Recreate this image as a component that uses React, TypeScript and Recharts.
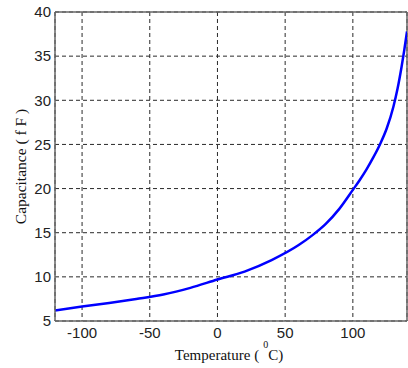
import React from 'react';
import { LineChart, Line, XAxis, YAxis, CartesianGrid, ReferenceLine } from 'recharts';

// temperature (°C) vs capacitance (fF)
const temperature = [-120, -100, -80, -60, -40, -20, 0, 20, 40, 60, 70, 80, 90, 100, 105, 110, 115, 120, 125, 130, 133, 136, 138, 140];
const capacitance = [6.2, 6.65, 7.05, 7.5, 8.0, 8.75, 9.7, 10.6, 11.9, 13.6, 14.7, 16.0, 17.7, 19.85, 20.95, 22.15, 23.5, 25.0, 26.8, 29.3, 31.3, 33.8, 35.7, 37.8];

const xTicks = [-100, -50, 0, 50, 100];
const yTicks = [5, 10, 15, 20, 25, 30, 35, 40];

const data = temperature.map((t, i) => ({ t, c: capacitance[i] }));

const axisColor = '#666';
const tickFont = { fontFamily: 'Liberation Sans, Arial, sans-serif', fontSize: 15, fill: '#222' };

const XLabel = ({ viewBox }: any) => {
  const cx = viewBox.x + viewBox.width / 2 - 2;
  const y = viewBox.y + 39;
  return (
    <text x={cx} y={y} textAnchor="middle" fontFamily="Liberation Serif, Times New Roman, serif" fontSize={15} fill="#111">
      Temperature (
      <tspan dx={4} dy={-12} fontSize={10}>0</tspan>
      <tspan dy={12} fontSize={15}>C)</tspan>
    </text>
  );
};

const YLabel = ({ viewBox }: any) => {
  const x = 26;
  const cy = viewBox.y + viewBox.height / 2;
  return (
    <text
      x={x}
      y={cy}
      transform={`rotate(-90 ${x} ${cy})`}
      textAnchor="middle"
      fontFamily="Liberation Serif, Times New Roman, serif"
      fontSize={15.5}
      fill="#111"
    >
      Capacitance ( f F )
    </text>
  );
};

const App: React.FC = () => {
  return (
    <div style={{ position: 'absolute', left: 0, top: 0, width: 408, height: 368, background: '#fff' }}>
      <LineChart width={408} height={368} data={data} margin={{ top: 12, right: 1, left: 0, bottom: 0 }}>
        <CartesianGrid strokeDasharray="4 3" stroke="#2a2a2a" />
        <XAxis
          dataKey="t"
          type="number"
          domain={[-120, 140]}
          ticks={xTicks}
          allowDataOverflow
          height={47}
          tickLine={false}
          tickSize={0}
          tickMargin={6}
          tick={tickFont}
          stroke={axisColor}
          strokeWidth={1.5}
          label={<XLabel />}
        />
        <YAxis
          type="number"
          domain={[5, 40]}
          ticks={yTicks}
          allowDataOverflow
          width={55}
          tickLine={false}
          tickSize={0}
          tickMargin={4}
          tick={tickFont}
          stroke={axisColor}
          strokeWidth={1.5}
          label={<YLabel />}
        />
        <ReferenceLine y={40} stroke={axisColor} strokeWidth={1.5} />
        <ReferenceLine x={140} stroke={axisColor} strokeWidth={1.5} />
        <Line
          type="monotone"
          dataKey="c"
          stroke="#0000ff"
          strokeWidth={2.5}
          dot={false}
          isAnimationActive={false}
        />
      </LineChart>
    </div>
  );
};

export default App;
